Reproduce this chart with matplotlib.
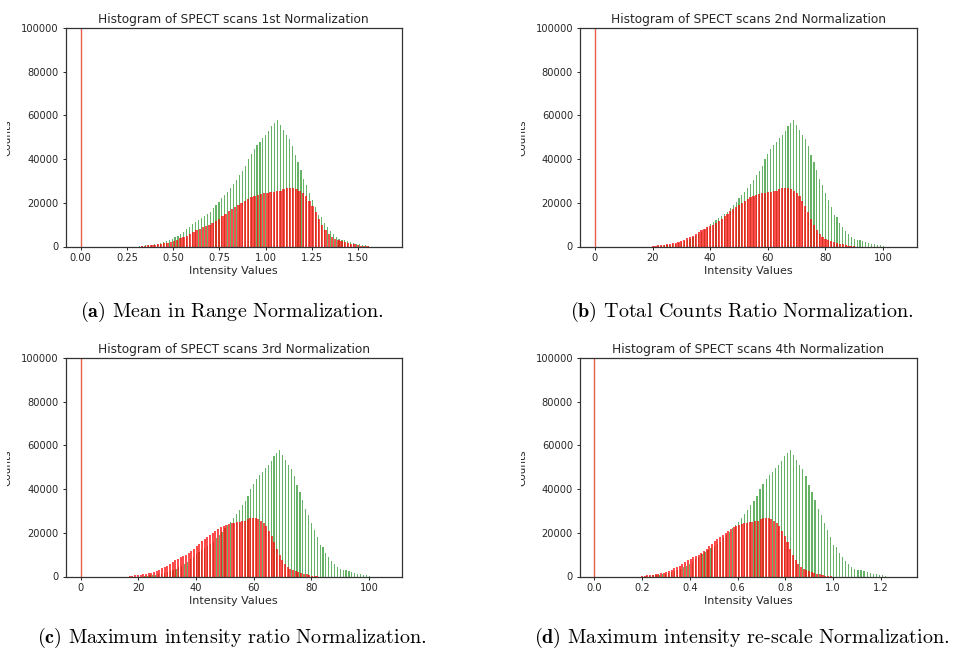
import matplotlib.pyplot as plt
import numpy as np
from matplotlib.transforms import Bbox

# bar heights of the two histograms (same scans, four normalizations)
green_counts = [200, 350, 500, 700, 850, 1000, 1200, 1600, 2000, 2500,
                3000, 3600, 4200, 5000, 5800, 6800, 7800, 9000, 10500, 11200,
                12000, 12900, 13800, 15000, 16000, 17500, 19000, 20500, 22000, 23500,
                25000, 26800, 28500, 30500, 32500, 34500, 37000, 40000, 42500, 44500,
                46500, 48000, 49500, 51000, 53000, 55000, 56500, 57800, 55400, 53500,
                51200, 49200, 45800, 42000, 38800, 35000, 30800, 28000, 24300, 21200,
                18000, 14300, 13500, 10800, 8900, 7100, 5800, 4300, 3500, 3100,
                2800, 2400, 2000, 1600, 1200, 1000, 800, 500, 300]
red_counts = [300, 400, 500, 650, 800, 1000, 1200, 1500, 1800, 2200,
              2700, 3200, 3700, 4300, 5000, 5800, 6800, 7500, 8200, 8800,
              9300, 10000, 10800, 11800, 12800, 14000, 15000, 16200, 17200, 18000,
              18800, 19800, 20800, 21800, 22500, 23000, 23600, 24200, 24500, 24700,
              24800, 25000, 25200, 25600, 26200, 26800, 27000, 26800, 26300, 25500,
              24500, 23000, 21000, 18500, 15800, 12800, 10000, 7500, 5500, 4200,
              3400, 2900, 2400, 2000, 1600, 1300, 1000, 700, 450, 250, 120]

titles = ["Histogram of SPECT scans 1st Normalization",
          "Histogram of SPECT scans 2nd Normalization",
          "Histogram of SPECT scans 3rd Normalization",
          "Histogram of SPECT scans 4th Normalization"]
captions = [r"$\mathbf{(a)}$ Mean in Range Normalization.",
            r"$\mathbf{(b)}$ Total Counts Ratio Normalization.",
            r"$\mathbf{(c)}$ Maximum intensity ratio Normalization.",
            r"$\mathbf{(d)}$ Maximum intensity re-scale Normalization."]

# first / last bin centre of each histogram per panel
green_span = [(0.32, 1.555), (22, 100), (22, 100), (0.22, 1.22)]
red_span = [(0.33, 1.55), (20, 90), (17, 82), (0.20, 0.99)]
xlims = [(-0.082, 1.737), (-5.2, 111.6), (-5.3, 111.4), (-0.06, 1.35)]
xticks = [[0, 0.25, 0.5, 0.75, 1.0, 1.25, 1.5],
          [0, 20, 40, 60, 80, 100],
          [0, 20, 40, 60, 80, 100],
          [0, 0.2, 0.4, 0.6, 0.8, 1.0, 1.2]]
yticks = [0, 20000, 40000, 60000, 80000, 100000]

plt.rcParams['mathtext.fontset'] = 'cm'
txt = '#262626'

fig = plt.figure(figsize=(9.77, 6.5), dpi=100)

# axes boxes in pixels: left, top
boxes = [(65.5, 28), (580, 28), (65.5, 358), (580, 358)]
cap_pos = [(232, 312), (742, 312), (232, 638), (742, 638)]
W, H = 977, 650
aw, ah = 336.5, 218.5

for i in range(4):
    l, t = boxes[i]
    ax = fig.add_axes([l / W, 1 - (t + ah) / H, aw / W, ah / H])

    gx = np.linspace(green_span[i][0], green_span[i][1], len(green_counts))
    rx = np.linspace(red_span[i][0], red_span[i][1], len(red_counts))
    gw = (gx[1] - gx[0]) * 0.4
    rw = (rx[1] - rx[0]) * 0.75
    ax.bar(gx, green_counts, gw, color='green', alpha=0.6, linewidth=0)
    ax.bar(rx, red_counts, rw, color='red', alpha=0.7, linewidth=0)
    ax.axvline(0, color='#e8604c', linewidth=1.0)

    ax.set_xlim(xlims[i])
    ax.set_ylim(0, 100000)
    ax.set_xticks(xticks[i])
    ax.set_yticks(yticks)
    ax.tick_params(labelsize=7.1, colors=txt, length=2.5, pad=2.5, width=0.7)
    for s in ax.spines.values():
        s.set_color('#333333')
        s.set_linewidth(0.9)

    ax.set_title(titles[i], fontsize=8.7, color=txt, pad=3.5)
    ax.set_xlabel("Intensity Values", fontsize=8, color=txt, labelpad=2)
    ax.set_ylabel("Counts", fontsize=7.5, color=txt)
    ax.yaxis.set_label_coords((12.5 - 65.5) / aw, 0.5)
    # the ylabel is cut at the edge of each sub-image
    lab = ax.yaxis.label
    lab.set_clip_on(True)
    lab.set_clip_box(Bbox([[l - 59, 0], [l, H]]))

    cx, cy = cap_pos[i]
    fig.text(cx / W, 1 - cy / H, captions[i], fontsize=14.5, family='cmr10',
             ha='center', va='center', color='black')

fig.savefig("out.png", dpi=100)
